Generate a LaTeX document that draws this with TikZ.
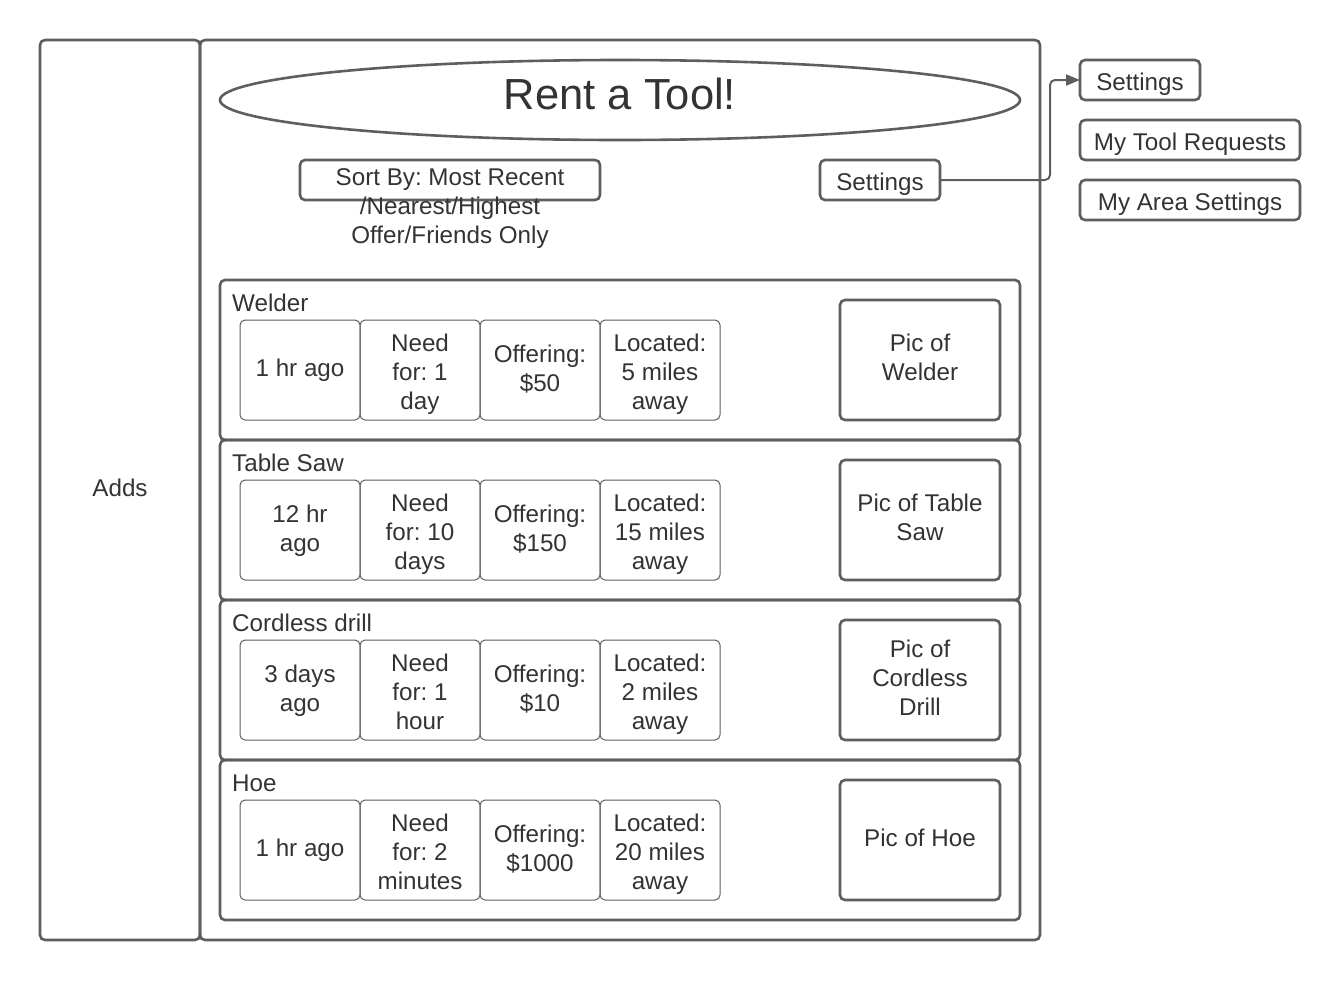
\documentclass[tikz,border=0pt]{standalone}
\usepackage{fontspec}
\setmainfont{Liberation Sans}
\usetikzlibrary{arrows.meta,positioning,shapes.geometric}
\frenchspacing

\definecolor{linegray}{HTML}{5E5E5E}
\definecolor{textgray}{HTML}{333333}
\newcommand{\txt}{\fontsize{24.2}{29}\selectfont}
\newcommand{\bigtxt}{\fontsize{43.5}{50}\selectfont}
\newcommand{\topstrut}{\rule{0pt}{18.5pt}}
\newcommand{\botstrut}{\rule[-5.5pt]{0pt}{5.5pt}}
\newcommand{\lift}{\rule{0pt}{26.5pt}}

\tikzset{
  frame/.style={draw=linegray, line width=2.6pt, rounded corners=5pt, inner sep=0pt, outer sep=0pt, text=textgray, font=\txt, align=center},
  menubox/.style={frame, minimum height=40pt, text height=26.5pt, text depth=5.5pt},
  infobox/.style={frame, line width=1pt, minimum width=120pt, minimum height=100pt},
  titlebox/.style={draw=linegray, line width=2.6pt, ellipse, inner sep=0pt, text=textgray, font=\bigtxt, text depth=13pt},
  label/.style={text=textgray, font=\txt, inner sep=0pt},
  conn/.style={draw=linegray, line width=2pt, rounded corners=5pt, -{Triangle[length=14pt,width=11pt]}}
}

\begin{document}
\begin{tikzpicture}[x=1pt, y=-1pt]
  \useasboundingbox (0,0) rectangle (1340,980);
  % page frames
  \node[frame, minimum width=160pt, minimum height=900pt, text height=18.5pt, text depth=5.5pt] (adds) at (120,490) {Adds};
  \node[frame, minimum width=840pt, minimum height=900pt] (main) at (620,490) {};
  \node[titlebox, minimum width=800pt, minimum height=80pt] (title) at (620,100) {Rent a Tool!};
  % top bar
  \node[frame, minimum width=300pt, minimum height=40pt] (sortby) at (450,180) {};
  \node[label, anchor=north, align=center] (sorttext) at (450,167) {\topstrut Sort By: Most Recent\\/Nearest/Highest\\Offer/Friends Only};
  \node[menubox, minimum width=120pt] (settings) at (880,180) {Settings};
  % settings menu
  \node[menubox, minimum width=120pt] (menuset) at (1140,80) {Settings};
  \node[menubox, minimum width=220pt] (menureq) at (1190,140) {My Tool Requests};
  \node[menubox, minimum width=220pt] (menuarea) at (1190,200) {My Area Settings};
  \draw[conn] (settings.east) -| ([xshift=-30pt]menuset.west) -- (menuset.west);
  % tool requests
  \foreach \i/\toolname/\when/\need/\offer/\where/\photo in {
    1/Welder/1 hr ago/\lift Need\\for: 1\\day/Offering:\\\$50/\lift Located:\\5 miles\\away/Pic of\\Welder,
    2/Table Saw/12 hr\\ago/\lift Need\\for: 10\\days/Offering:\\\$150/\lift Located:\\15 miles\\away/Pic of Table\\Saw,
    3/Cordless drill/3 days\\ago/\lift Need\\for: 1\\hour/Offering:\\\$10/\lift Located:\\2 miles\\away/Pic of\\Cordless\\Drill,
    4/Hoe/1 hr ago/\lift Need\\for: 2\\minutes/Offering:\\\$1000/\lift Located:\\20 miles\\away/Pic of Hoe}
  {
    \node[frame, minimum width=800pt, minimum height=160pt] (row\i) at (620,200+160*\i) {};
    \node[label, anchor=base west] (name\i) at (232,151+160*\i) {\toolname};
    \node[infobox] (when\i) at (300,210+160*\i) {\topstrut\when\botstrut};
    \node[infobox, right=0pt of when\i] (need\i) {\topstrut\need\botstrut};
    \node[infobox, right=0pt of need\i] (offer\i) {\topstrut\offer\botstrut};
    \node[infobox, right=0pt of offer\i] (where\i) {\topstrut\where\botstrut};
    \node[frame, minimum width=160pt, minimum height=120pt] (photo\i) at (920,200+160*\i) {\photo\botstrut};
  }
\end{tikzpicture}
\end{document}
